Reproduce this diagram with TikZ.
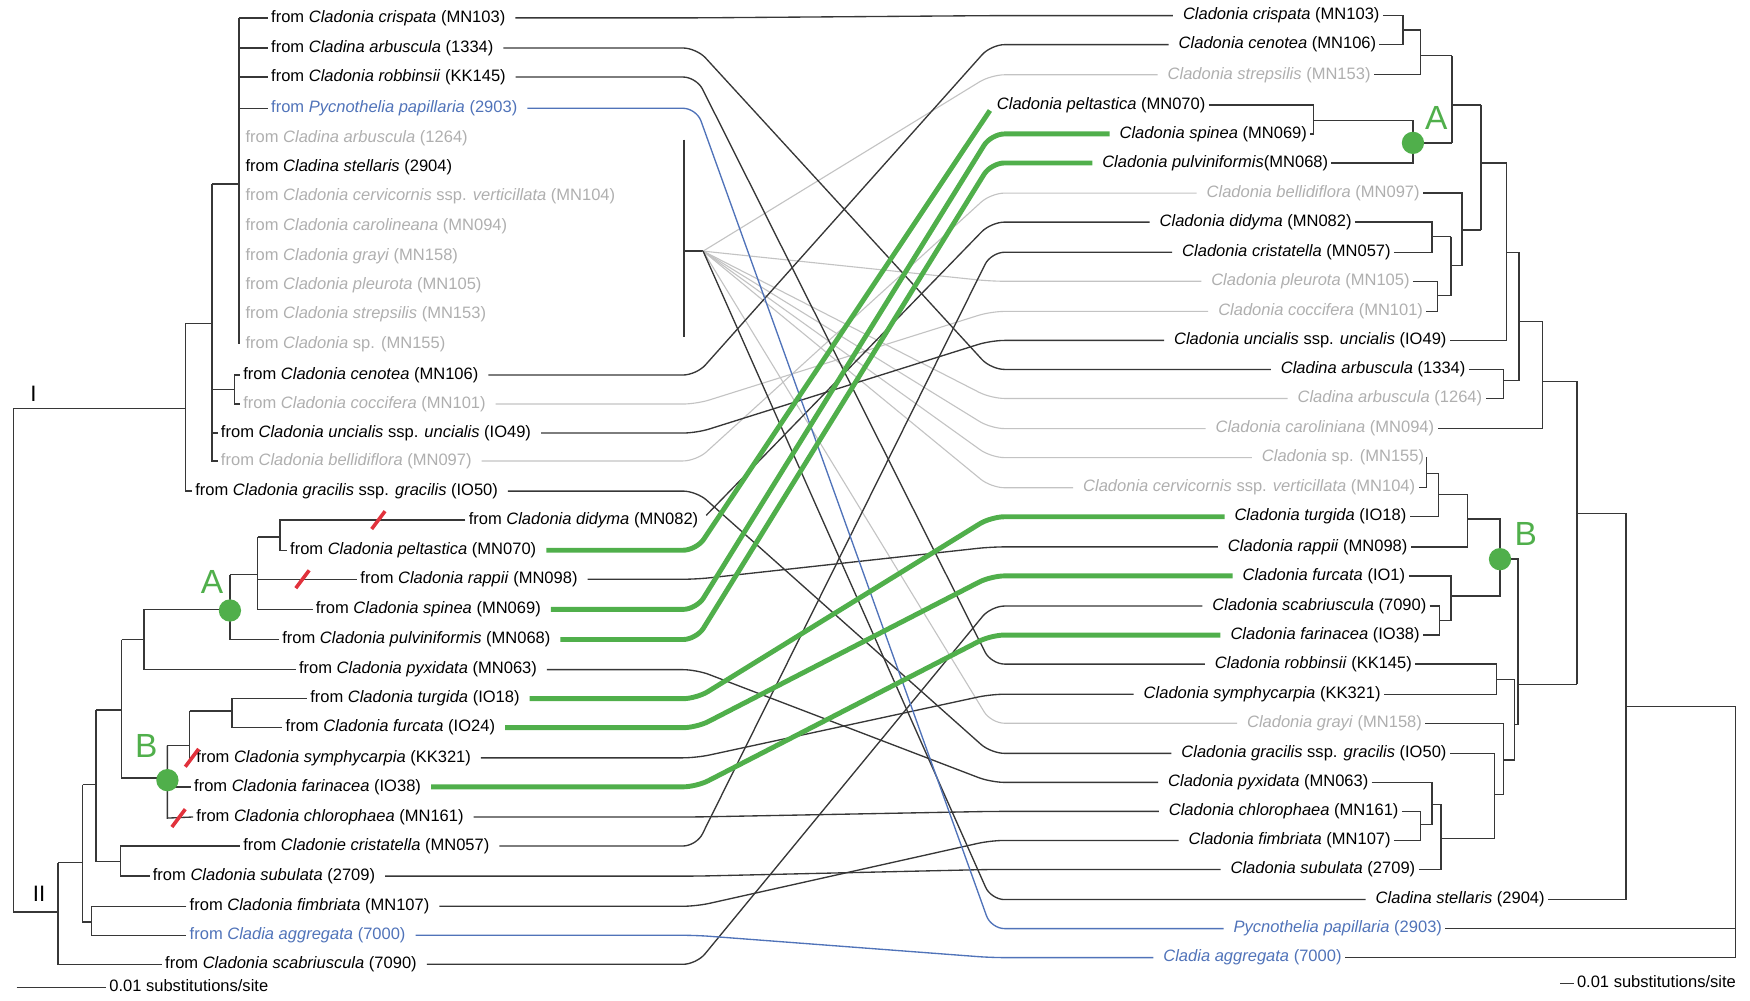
\documentclass[tikz,border=0pt]{standalone}
\usepackage{fontspec}
\setmainfont{Liberation Sans}
\definecolor{tgreen}{RGB}{80,175,75}
\definecolor{tblue}{RGB}{80,115,185}
\definecolor{tgraytx}{RGB}{175,175,175}
\definecolor{tgrayln}{RGB}{195,195,195}
\definecolor{tline}{RGB}{55,55,55}
\definecolor{tred}{RGB}{225,50,60}
\newcommand{\mycn}[3]{\draw[#1] (#2.east) -- (#2.east -| bendL) -- (#3.west -| bendR) -- (#3.west);}
\newcommand{\myfan}[2]{\draw[#1,shorten <=0pt] (fan) -- (#2.west -| bendR) -- (#2.west);}
\begin{document}
\begin{tikzpicture}[x=0.5pt,y=-0.5pt,
 lab/.style={font=\fontsize{7.4}{8}\selectfont, inner sep=1.5pt, outer sep=0pt, text height=5.3pt, text depth=1.5pt},
 ll/.style={lab, anchor=west},
 rl/.style={lab, anchor=east},
 faint/.style={text=tgraytx},
 bluet/.style={text=tblue},
 tree/.style={draw=tline, line width=0.6pt},
 conn/.style={draw=tline, line width=0.6pt, rounded corners=6pt, shorten <=3pt, shorten >=3pt},
 fconn/.style={conn, draw=tgrayln, line width=0.5pt},
 bconn/.style={conn, draw=tblue},
 gconn/.style={conn, draw=tgreen, line width=2.2pt},
 dot/.style={fill=tgreen, draw=none},
 clade/.style={text=tgreen, font=\fontsize{15}{16}\selectfont, inner sep=0pt},
 slash/.style={draw=tred, line width=1.6pt},
 roman/.style={font=\fontsize{10}{11}\selectfont, inner sep=0pt}
]
\useasboundingbox (0,0) rectangle (1568,896);
\coordinate (bendL) at (624,0);
\coordinate (bendR) at (888,0);
\coordinate (fan) at (630,225);

% ---------- left labels ----------
\node[ll] (L0) at (240,16) {from \textit{Cladonia crispata} (MN103)};
\node[ll] (L1) at (240,43) {from \textit{Cladina arbuscula} (1334)};
\node[ll] (L2) at (240,69) {from \textit{Cladonia robbinsii} (KK145)};
\node[ll,bluet] (L3) at (240,97) {from \textit{Pycnothelia papillaria} (2903)};
\node[ll,faint] (L4) at (217,124) {from \textit{Cladina arbuscula} (1264)};
\node[ll] (L5) at (217,150) {from \textit{Cladina stellaris} (2904)};
\node[ll,faint] (L6) at (217,176) {from \textit{Cladonia cervicornis} ssp. \textit{verticillata} (MN104)};
\node[ll,faint] (L7) at (217,203) {from \textit{Cladonia carolineana} (MN094)};
\node[ll,faint] (L8) at (217,230) {from \textit{Cladonia grayi} (MN158)};
\node[ll,faint] (L9) at (217,256) {from \textit{Cladonia pleurota} (MN105)};
\node[ll,faint] (L10) at (217,282) {from \textit{Cladonia strepsilis} (MN153)};
\node[ll,faint] (L11) at (217,308) {from \textit{Cladonia} sp. (MN155)};
\node[ll] (L12) at (215,336) {from \textit{Cladonia cenotea} (MN106)};
\node[ll,faint] (L13) at (215,362) {from \textit{Cladonia coccifera} (MN101)};
\node[ll] (L14) at (195,388) {from \textit{Cladonia uncialis} ssp. \textit{uncialis} (IO49)};
\node[ll,faint] (L15) at (195,413) {from \textit{Cladonia bellidiflora} (MN097)};
\node[ll] (L16) at (172,440) {from \textit{Cladonia gracilis} ssp. \textit{gracilis} (IO50)};
\node[ll] (L17) at (417,466) {from \textit{Cladonia didyma} (MN082)};
\node[ll] (L18) at (257,493) {from \textit{Cladonia peltastica} (MN070)};
\node[ll] (L19) at (320,519) {from \textit{Cladonia rappii} (MN098)};
\node[ll] (L20) at (280,546) {from \textit{Cladonia spinea} (MN069)};
\node[ll] (L21) at (250,573) {from \textit{Cladonia pulviniformis} (MN068)};
\node[ll] (L22) at (265,600) {from \textit{Cladonia pyxidata} (MN063)};
\node[ll] (L23) at (275,626) {from \textit{Cladonia turgida} (IO18)};
\node[ll] (L24) at (253,652) {from \textit{Cladonia furcata} (IO24)};
\node[ll] (L25) at (173,679) {from \textit{Cladonia symphycarpia} (KK321)};
\node[ll] (L26) at (171,705) {from \textit{Cladonia farinacea} (IO38)};
\node[ll] (L27) at (173,732) {from \textit{Cladonia chlorophaea} (MN161)};
\node[ll] (L28) at (215,758) {from \textit{Cladonie cristatella} (MN057)};
\node[ll] (L29) at (134,785) {from \textit{Cladonia subulata} (2709)};
\node[ll] (L30) at (167,812) {from \textit{Cladonia fimbriata} (MN107)};
\node[ll,bluet] (L31) at (167,838) {from \textit{Cladia aggregata} (7000)};
\node[ll] (L32) at (145,864) {from \textit{Cladonia scabriuscula} (7090)};

% ---------- right labels ----------
\node[rl] (R0) at (1239,14) {\textit{Cladonia crispata} (MN103)};
\node[rl] (R1) at (1236,40) {\textit{Cladonia cenotea} (MN106)};
\node[rl,faint] (R2) at (1231,67) {\textit{Cladonia strepsilis} (MN153)};
\node[rl] (R3) at (1083,94) {\textit{Cladonia peltastica} (MN070)};
\node[rl] (R4) at (1174,120) {\textit{Cladonia spinea} (MN069)};
\node[rl] (R5) at (1193,146) {\textit{Cladonia pulviniformis}(MN068)};
\node[rl,faint] (R6) at (1275,173) {\textit{Cladonia bellidiflora} (MN097)};
\node[rl] (R7) at (1214,199) {\textit{Cladonia didyma} (MN082)};
\node[rl] (R8) at (1249,226) {\textit{Cladonia cristatella} (MN057)};
\node[rl,faint] (R9) at (1266,252) {\textit{Cladonia pleurota} (MN105)};
\node[rl,faint] (R10) at (1278,279) {\textit{Cladonia coccifera} (MN101)};
\node[rl] (R11) at (1299,305) {\textit{Cladonia uncialis} ssp. \textit{uncialis} (IO49)};
\node[rl] (R12) at (1316,331) {\textit{Cladina arbuscula} (1334)};
\node[rl,faint] (R13) at (1331,357) {\textit{Cladina arbuscula} (1264)};
\node[rl,faint] (R14) at (1288,384) {\textit{Cladonia caroliniana} (MN094)};
\node[rl,faint] (R15) at (1279,410) {\textit{Cladonia} sp. (MN155)};
\node[rl,faint] (R16) at (1271,437) {\textit{Cladonia cervicornis} ssp. \textit{verticillata} (MN104)};
\node[rl] (R17) at (1263,463) {\textit{Cladonia turgida} (IO18)};
\node[rl] (R18) at (1264,490) {\textit{Cladonia rappii} (MN098)};
\node[rl] (R19) at (1262,516) {\textit{Cladonia furcata} (IO1)};
\node[rl] (R20) at (1281,543) {\textit{Cladonia scabriuscula} (7090)};
\node[rl] (R21) at (1275,569) {\textit{Cladonia farinacea} (IO38)};
\node[rl] (R22) at (1268,595) {\textit{Cladonia robbinsii} (KK145)};
\node[rl] (R23) at (1240,622) {\textit{Cladonia symphycarpia} (KK321)};
\node[rl,faint] (R24) at (1277,648) {\textit{Cladonia grayi} (MN158)};
\node[rl] (R25) at (1299,675) {\textit{Cladonia gracilis} ssp. \textit{gracilis} (IO50)};
\node[rl] (R26) at (1229,701) {\textit{Cladonia pyxidata} (MN063)};
\node[rl] (R27) at (1256,727) {\textit{Cladonia chlorophaea} (MN161)};
\node[rl] (R28) at (1249,753) {\textit{Cladonia fimbriata} (MN107)};
\node[rl] (R29) at (1271,779) {\textit{Cladonia subulata} (2709)};
\node[rl] (R30) at (1387,806) {\textit{Cladina stellaris} (2904)};
\node[rl,bluet] (R31) at (1295,832) {\textit{Pycnothelia papillaria} (2903)};
\node[rl,bluet] (R32) at (1205,858) {\textit{Cladia aggregata} (7000)};

% ---------- connectors ----------
\draw[tree] (613,125) -- (613,302);
\draw[tree] (613,225) -- (fan);
\myfan{fconn}{R2}
\myfan{fconn}{R9}
\myfan{fconn}{R13}
\myfan{fconn}{R14}
\myfan{fconn}{R15}
\myfan{fconn}{R16}
\myfan{fconn}{R24}
\mycn{fconn}{L13}{R10}
\mycn{fconn}{L15}{R6}
\myfan{conn}{R30}
\mycn{conn}{L0}{R0}
\mycn{conn}{L1}{R12}
\mycn{conn}{L2}{R22}
\mycn{conn}{L12}{R1}
\mycn{conn}{L14}{R11}
\mycn{conn}{L16}{R25}
\draw[conn] (L17.east) -- (R7.west -| bendR) -- (R7.west);
\mycn{conn}{L19}{R18}
\mycn{conn}{L22}{R26}
\mycn{conn}{L25}{R23}
\mycn{conn}{L27}{R27}
\mycn{conn}{L28}{R8}
\mycn{conn}{L29}{R29}
\mycn{conn}{L30}{R28}
\mycn{conn}{L32}{R20}
\mycn{bconn}{L3}{R31}
\mycn{bconn}{L31}{R32}
\draw[gconn] (L18.east) -- (L18.east -| bendL) -- (R3.west);
\mycn{gconn}{L20}{R4}
\mycn{gconn}{L21}{R5}
\mycn{gconn}{L23}{R17}
\mycn{gconn}{L24}{R19}
\mycn{gconn}{L26}{R21}

% ---------- left tree ----------
\draw[tree] (214,16) -- (214,308);
\draw[tree] (214,16) -- (L0.west);
\draw[tree] (214,43) -- (L1.west);
\draw[tree] (214,69) -- (L2.west);
\draw[tree] (214,97) -- (L3.west);
\draw[tree] (190,165) -- (214,165);
\draw[tree] (190,165) -- (190,413) -- (L15.west);
\draw[tree] (190,388) -- (L14.west);
\draw[tree] (190,349) -- (210,349);
\draw[tree] (L12.west) -- (210,336) -- (210,362) -- (L13.west);
\draw[tree] (166,290) -- (190,290);
\draw[tree] (166,290) -- (166,440) -- (L16.west);
\draw[tree] (12,366) -- (166,366);
\draw[tree] (12,366) -- (12,817) -- (52,817);
\draw[tree] (52,773) -- (52,864) -- (L32.west);
\draw[tree] (52,773) -- (74,773);
\draw[tree] (74,703) -- (74,826) -- (82,826);
\draw[tree] (L30.west) -- (82,812) -- (82,838) -- (L31.west);
\draw[tree] (74,703) -- (86,703);
\draw[tree] (86,636) -- (86,772) -- (108,772);
\draw[tree] (L28.west) -- (108,758) -- (108,785) -- (L29.west);
\draw[tree] (86,636) -- (109,636);
\draw[tree] (109,573) -- (109,697) -- (150,697);
\draw[tree] (109,573) -- (129,573);
\draw[tree] (129,546) -- (129,600) -- (L22.west);
\draw[tree] (129,546) -- (206,546);
\draw[tree] (206,515) -- (206,573) -- (L21.west);
\draw[tree] (206,515) -- (231,515);
\draw[tree] (231,481) -- (231,546) -- (L20.west);
\draw[tree] (231,519) -- (L19.west);
\draw[tree] (231,481) -- (251,481);
\draw[tree] (L17.west) -- (251,466) -- (251,493) -- (L18.west);
\draw[tree] (150,668) -- (150,733) -- (L27.west);
\draw[tree] (150,705) -- (L26.west);
\draw[tree] (150,668) -- (170,668);
\draw[tree] (170,637) -- (170,679) -- (L25.west);
\draw[tree] (170,637) -- (208,637);
\draw[tree] (L23.west) -- (208,626) -- (208,652) -- (L24.west);

% ---------- right tree ----------
\draw[tree] (R0.east) -- (1257,14) -- (1257,40) -- (R1.east);
\draw[tree] (1257,27) -- (1273,27);
\draw[tree] (1273,27) -- (1273,67) -- (R2.east);
\draw[tree] (1273,50) -- (1301,50);
\draw[tree] (R3.east) -- (1177,94) -- (1177,120) -- (R4.east);
\draw[tree] (1177,108) -- (1266,108) -- (1266,146) -- (R5.east);
\draw[tree] (1266,128) -- (1301,128);
\draw[tree] (1301,50) -- (1301,128);
\draw[tree] (1301,94) -- (1327,94);
\draw[tree] (R7.east) -- (1283,199) -- (1283,226) -- (R8.east);
\draw[tree] (1283,212) -- (1300,212);
\draw[tree] (R9.east) -- (1288,252) -- (1288,279) -- (R10.east);
\draw[tree] (1288,265) -- (1300,265);
\draw[tree] (1300,212) -- (1300,265);
\draw[tree] (1300,238) -- (1310,238);
\draw[tree] (R6.east) -- (1310,173) -- (1310,238);
\draw[tree] (1310,206) -- (1327,206);
\draw[tree] (1327,94) -- (1327,206);
\draw[tree] (1327,146) -- (1350,146) -- (1350,305) -- (R11.east);
\draw[tree] (1350,226) -- (1361,226);
\draw[tree] (R12.east) -- (1347,331) -- (1347,357) -- (R13.east);
\draw[tree] (1347,341) -- (1361,341);
\draw[tree] (1361,226) -- (1361,341);
\draw[tree] (1361,288) -- (1382,288) -- (1382,384) -- (R14.east);
\draw[tree] (1382,342) -- (1413,342) -- (1413,613);
\draw[tree] (R15.east) -- (1278,410) -- (1278,437) -- (R16.east);
\draw[tree] (1278,424) -- (1289,424) -- (1289,463) -- (R17.east);
\draw[tree] (1289,443) -- (1315,443) -- (1315,490) -- (R18.east);
\draw[tree] (1315,465) -- (1344,465) -- (1344,534) -- (1300,534);
\draw[tree] (R19.east) -- (1300,516) -- (1300,556) -- (1290,556);
\draw[tree] (R20.east) -- (1290,543) -- (1290,569) -- (R21.east);
\draw[tree] (1344,501) -- (1360,501) -- (1360,649) -- (1357,649);
\draw[tree] (R22.east) -- (1341,595) -- (1341,622) -- (R23.east);
\draw[tree] (1341,609) -- (1357,609) -- (1357,681) -- (1347,681);
\draw[tree] (R24.east) -- (1347,648) -- (1347,712) -- (1339,712);
\draw[tree] (R25.east) -- (1339,675) -- (1339,751) -- (1291,751);
\draw[tree] (R26.east) -- (1283,701) -- (1283,739) -- (1273,739);
\draw[tree] (R27.east) -- (1273,727) -- (1273,753) -- (R28.east);
\draw[tree] (1283,721) -- (1291,721) -- (1291,779) -- (R29.east);
\draw[tree] (1360,613) -- (1413,613);
\draw[tree] (1413,460) -- (1457,460) -- (1457,806) -- (R30.east);
\draw[tree] (1457,633) -- (1555,633) -- (1555,858) -- (R32.east);
\draw[tree] (R31.east) -- (1555,832);

% ---------- clade marks ----------
\fill[dot] (206,547) circle[radius=5pt];
\fill[dot] (150,699) circle[radius=5pt];
\fill[dot] (1266,128) circle[radius=5pt];
\fill[dot] (1344,501) circle[radius=5pt];
\node[clade] (Aleft) at (190,521) {A};
\node[clade] (Bleft) at (131,668) {B};
\node[clade] (Aright) at (1287,106) {A};
\node[clade] (Bright) at (1367,478) {B};
\draw[slash] (333,474) -- (345,458);
\draw[slash] (265,527) -- (277,511);
\draw[slash] (166,687) -- (178,671);
\draw[slash] (154,741) -- (166,725);
\node[roman] (cI) at (30,353) {I};
\node[roman] (cII) at (35,801) {II};

% ---------- scale bars ----------
\draw[tree] (15,885) -- (95,885) node[lab,anchor=west] (sbL) {0.01 substitutions/site};
\draw[tree] (1398,881) -- (1410,881) node[lab,anchor=west] (sbR) {0.01 substitutions/site};
\end{tikzpicture}
\end{document}
